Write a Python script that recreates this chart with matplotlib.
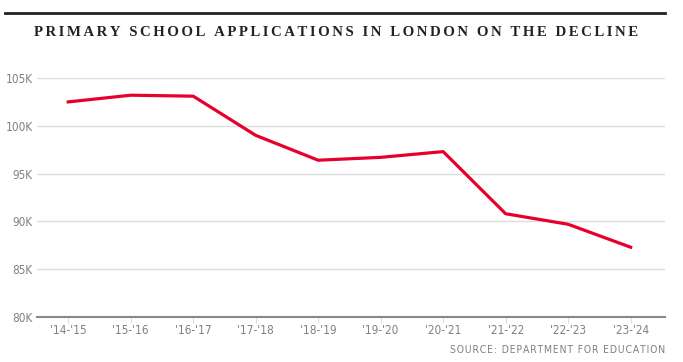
import matplotlib
matplotlib.use('Agg')
import matplotlib.pyplot as plt

years = ["'14-'15", "'15-'16", "'16-'17", "'17-'18", "'18-'19",
         "'19-'20", "'20-'21", "'21-'22", "'22-'23", "'23-'24"]
applications = [102.5, 103.2, 103.1, 99.0, 96.4, 96.7, 97.3, 90.8, 89.7, 87.3]
yticks = [80, 85, 90, 95, 100, 105]

serif = ['Liberation Serif', 'DejaVu Serif']


def main():
    fig = plt.figure(figsize=(6.83, 3.62), dpi=100)
    ax = fig.add_axes([37 / 683, 1 - 317 / 362, (665 - 37) / 683, (317 - 78) / 362])

    x = list(range(len(years)))
    ax.plot(x, applications, color='#e8002d', linewidth=2.3, clip_on=False, zorder=3)

    ax.set_xlim(-0.5, 9.55)
    ax.set_ylim(80, 105)
    ax.set_yticks(yticks)
    ax.set_yticklabels([f'{v}K' for v in yticks], fontsize=8.5, fontstretch='condensed',
                       color='#808080')
    ax.set_xticks(x)
    ax.set_xticklabels(years, fontsize=8.5, fontstretch='condensed', color='#808080')
    ax.grid(axis='y', color='#dddddd', linewidth=1)
    ax.tick_params(axis='y', length=0, pad=3)
    ax.tick_params(axis='x', length=4, color='#dddddd', pad=1)
    for s in ['top', 'right', 'left']:
        ax.spines[s].set_visible(False)
    ax.spines['bottom'].set_color('#888888')
    ax.spines['bottom'].set_linewidth(1.5)
    ax.set_axisbelow(True)

    # top rule and title
    fig.add_artist(plt.Line2D([5 / 683, 665 / 683], [1 - 13 / 362] * 2,
                              color='#222222', linewidth=2))
    title = 'PRIMARY SCHOOL APPLICATIONS IN LONDON ON THE DECLINE'
    fig.text(336 / 683, 1 - 33 / 362, '\u200a\u200a'.join(title), family=serif,
             fontweight='bold', fontsize=10.7, ha='center', va='center', color='#222222')
    fig.text(665 / 683, 1 - 350 / 362, '\u200a'.join('SOURCE: DEPARTMENT FOR EDUCATION'),
             fontsize=7.5, fontstretch='condensed', ha='right', va='center', color='#808080')

    fig.savefig('out.png', dpi=100)


if __name__ == '__main__':
    main()
